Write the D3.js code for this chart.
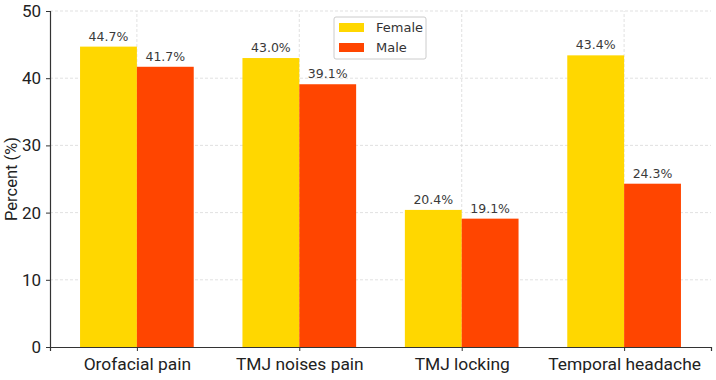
<!DOCTYPE html>
<html>
<head>
<meta charset="utf-8">
<script src="https://cdn.jsdelivr.net/npm/d3@7"></script>
<style>
  body { margin: 0; background: #fff; }
  svg { display: block; }
</style>
</head>
<body>
<svg id="chart" width="716" height="380"></svg>
<script>
// data
var categories = ["Orofacial pain", "TMJ noises pain", "TMJ locking", "Temporal headache"];
var female = [44.7, 43.0, 20.4, 43.4];
var male = [41.7, 39.1, 19.1, 24.3];
var seriesNames = ["Female", "Male"];
var yTicks = [0, 10, 20, 30, 40, 50];

var colors = { Female: "#FFD700", Male: "#FF4500" };

var svg = d3.select("#chart");
var m = { left: 50, right: 5, top: 11, bottom: 33 };
var W = 716, H = 380;

// matplotlib style x: index-based, bar width 0.35, margins 5%
var x = d3.scaleLinear().domain([-0.535, 3.535]).range([m.left, W - m.right]);
var y = d3.scaleLinear().domain([0, 50]).range([H - m.bottom, m.top]);
var bw = 0.35;

var rows = categories.map(function(c, i) {
    return { cat: c, i: i, vals: [female[i], male[i]] };
});

// grid
var grid = svg.append("g").attr("class", "grid");
grid.selectAll("line.h")
    .data(yTicks.slice(1))
    .enter().append("line")
    .attr("x1", x.range()[0]).attr("x2", x.range()[1])
    .attr("y1", function(d) { return y(d); })
    .attr("y2", function(d) { return y(d); })
    .attr("stroke", "#d9d9d9").attr("stroke-dasharray", "3,2").attr("stroke-width", 0.8);
grid.selectAll("line.v")
    .data(rows)
    .enter().append("line")
    .attr("x1", function(d) { return x(d.i); })
    .attr("x2", function(d) { return x(d.i); })
    .attr("y1", y(0)).attr("y2", y(50))
    .attr("stroke", "#d9d9d9").attr("stroke-dasharray", "3,2").attr("stroke-width", 0.8);

// bars
var groups = svg.append("g").selectAll("g")
    .data(rows)
    .enter().append("g");

groups.selectAll("rect")
    .data(function(d) {
        return d.vals.map(function(v, k) { return { i: d.i, k: k, v: v }; });
    })
    .enter().append("rect")
    .attr("x", function(d) { return x(d.i - bw + d.k * bw); })
    .attr("width", function(d) { return x(bw) - x(0); })
    .attr("y", function(d) { return y(d.v); })
    .attr("height", function(d) { return y(0) - y(d.v); })
    .attr("fill", function(d) { return colors[seriesNames[d.k]]; });

groups.selectAll("text")
    .data(function(d) {
        return d.vals.map(function(v, k) { return { i: d.i, k: k, v: v }; });
    })
    .enter().append("text")
    .attr("x", function(d) { return x(d.i - bw / 2 + d.k * bw); })
    .attr("y", function(d) { return y(d.v) - 6; })
    .attr("text-anchor", "middle")
    .attr("font-family", "DejaVu Sans")
    .attr("font-size", 12.5)
    .attr("fill", "#3a3a3a")
    .text(function(d) { return d.v.toFixed(1) + "%"; });

// axes
var yAxis = svg.append("g")
    .attr("transform", "translate(" + m.left + ",0)")
    .call(d3.axisLeft(y).tickValues(yTicks).tickSize(4).tickPadding(5));
var xAxis = svg.append("g")
    .attr("transform", "translate(0," + y(0) + ")")
    .call(d3.axisBottom(x).tickValues([0, 1, 2, 3]).tickSize(4).tickPadding(7)
        .tickFormat(function(d) { return categories[d]; }));

[yAxis, xAxis].forEach(function(a) {
    a.select(".domain").attr("stroke", "#333").attr("stroke-width", 1.2);
    a.selectAll(".tick line").attr("stroke", "#333");
    a.selectAll("text")
        .attr("font-family", "Roboto")
        .attr("fill", "#222");
});
yAxis.selectAll("text").attr("font-size", 17);
xAxis.selectAll("text").attr("font-size", 17.4);

svg.append("text")
    .attr("transform", "translate(17," + ((y(0) + y(50)) / 2) + ") rotate(-90)")
    .attr("text-anchor", "middle")
    .attr("font-family", "Roboto")
    .attr("font-size", 16.5)
    .attr("fill", "#222")
    .text("Percent (%)");

// legend
var lg = svg.append("g").attr("transform", "translate(334,17)");
lg.append("rect")
    .attr("width", 92).attr("height", 42).attr("rx", 2)
    .attr("fill", "#fff").attr("fill-opacity", 0.8)
    .attr("stroke", "#ccc");
var items = lg.selectAll("g.item")
    .data(seriesNames)
    .enter().append("g")
    .attr("transform", function(d, i) { return "translate(5," + (6 + i * 20) + ")"; });
items.append("rect")
    .attr("width", 25).attr("height", 9)
    .attr("fill", function(d) { return colors[d]; });
items.append("text")
    .attr("x", 37).attr("y", 9)
    .attr("font-family", "DejaVu Sans")
    .attr("font-size", 13)
    .attr("fill", "#333")
    .text(function(d) { return d; });
</script>
</body>
</html>
